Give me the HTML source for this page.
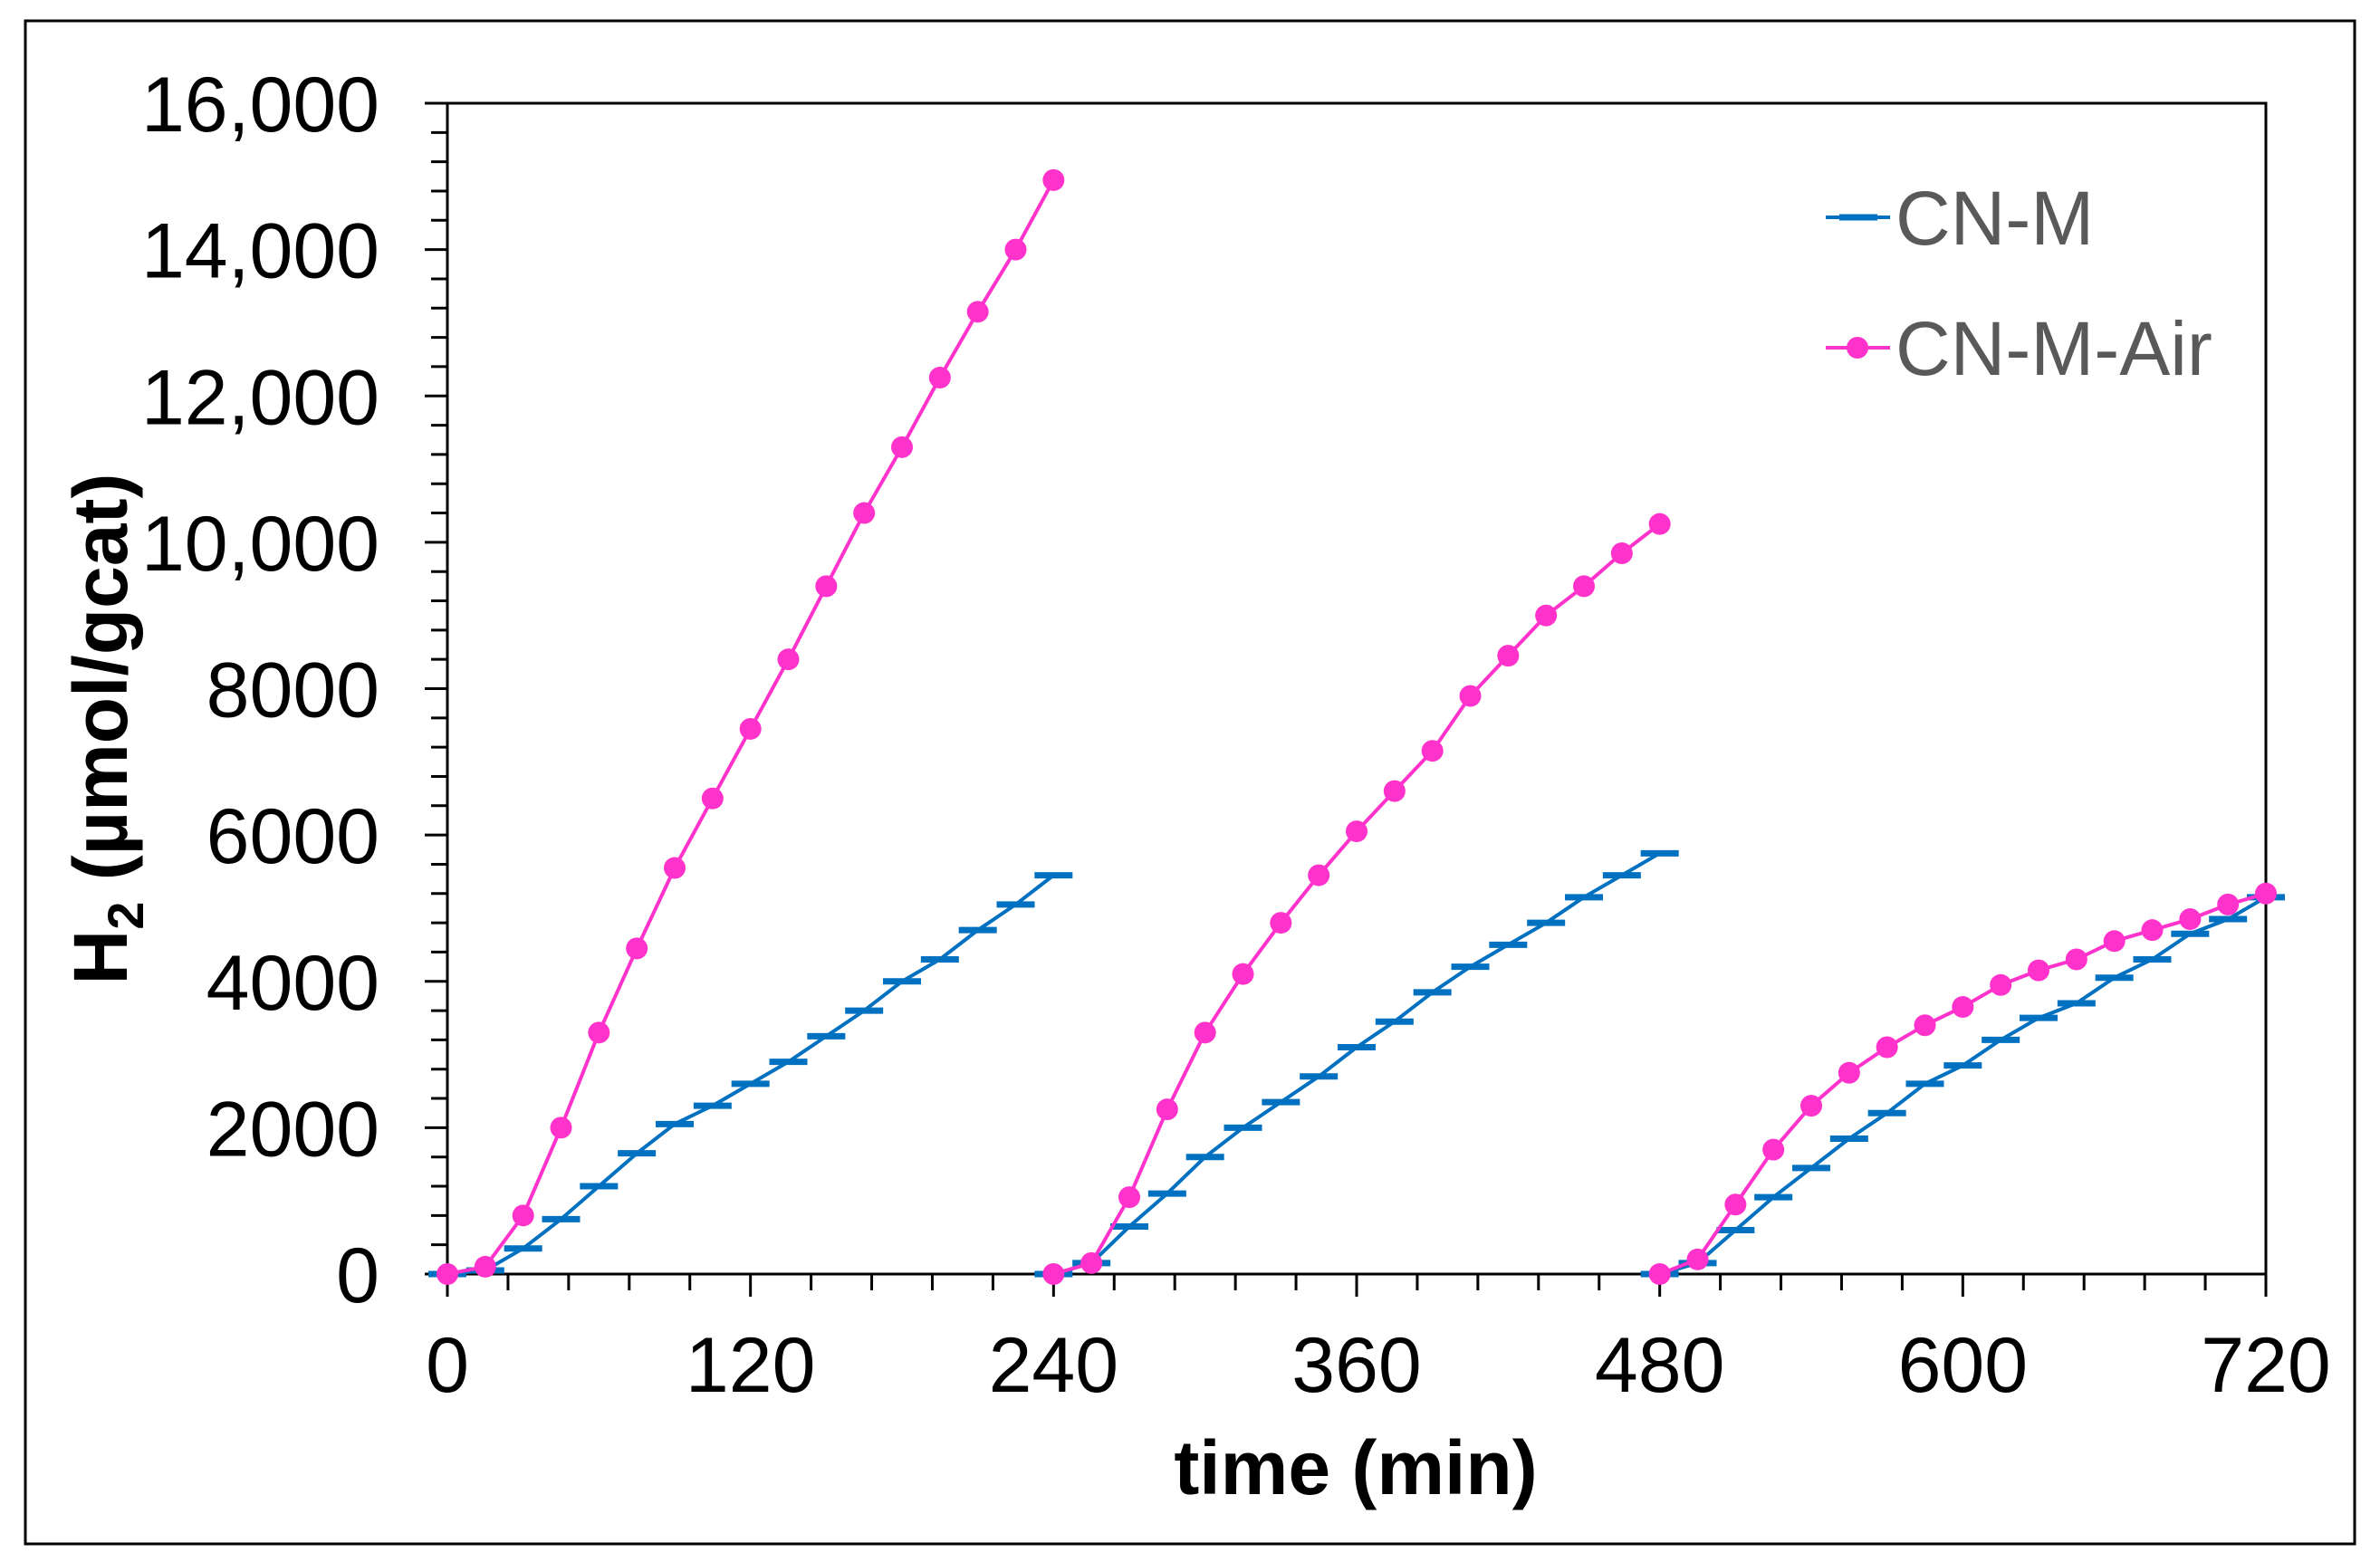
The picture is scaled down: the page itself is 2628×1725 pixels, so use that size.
<!DOCTYPE html>
<html><head><meta charset="utf-8"><style>
html,body{margin:0;padding:0;background:#fff;}
svg{display:block;font-family:"Liberation Sans",Arial,sans-serif;}
</style></head><body>
<svg id="chart" width="2628" height="1725" viewBox="0 0 2628 1725">
<rect x="28" y="23" width="2572" height="1682" fill="#fff" stroke="#000" stroke-width="3"/>
<g id="axes"></g>
<g id="series"></g>
<text x="140" y="805" transform="rotate(-90 140 805)" text-anchor="middle" font-size="84" font-weight="bold">H<tspan font-size="56" dy="18">2</tspan><tspan dy="-18"> (µmol/gcat)</tspan></text>
<text x="1497" y="1650" text-anchor="middle" font-size="84" font-weight="bold">time (min)</text>
<g>
<g>
<line x1="2016" y1="240" x2="2087" y2="240" stroke="#0070C0" stroke-width="4"/>
<line x1="2031" y1="240" x2="2073" y2="240" stroke="#0070C0" stroke-width="7"/>
<text x="2093" y="270" font-size="84" fill="#595959">CN-M</text>
</g>
<g>
<line x1="2016" y1="384" x2="2087" y2="384" stroke="#FF33CC" stroke-width="4"/>
<circle cx="2051" cy="384" r="12" fill="#FF33CC"/>
<text x="2093" y="414" font-size="84" fill="#595959">CN-M-Air</text>
</g>
</g>
</svg>
<script>
const times = [0,15,30,45,60,75,90,105,120,135,150,165,180,195,210,225,240];
const segmentStarts = [0,240,480];
const airSeg1 = [0,100,800,2000,3300,4450,5550,6500,7450,8400,9400,10400,11300,12250,13150,14000,14950];
const airSeg2 = [0,150,1050,2250,3300,4100,4800,5450,6050,6600,7150,7900,8450,9000,9400,9850,10250];
const airSeg3 = [0,200,950,1700,2300,2750,3100,3400,3650,3950,4150,4300,4550,4700,4850,5050,5200];
const cnmSeg1 = [0,50,350,750,1200,1650,2050,2300,2600,2900,3250,3600,4000,4300,4700,5050,5450];
const cnmSeg2 = [0,150,650,1100,1600,2000,2350,2700,3100,3450,3850,4200,4500,4800,5150,5450,5750];
const cnmSeg3 = [0,150,600,1050,1450,1850,2200,2600,2850,3200,3500,3700,4050,4300,4650,4850,5150];
const xTickLabels = ["0","120","240","360","480","600","720"];
const yTickLabels = ["0","2000","4000","6000","8000","10,000","12,000","14,000","16,000"];

const X0=494,X1=2502,Y0=1407,Y1=114;
const sx=v=>X0+(v/720)*(X1-X0);
const sy=v=>Y0-(v/16000)*(Y0-Y1);
const NS="http://www.w3.org/2000/svg";
function mk(tag,attrs,parent){const e=document.createElementNS(NS,tag);for(const k in attrs)e.setAttribute(k,attrs[k]);parent.appendChild(e);return e;}
const axes=document.getElementById('axes');
const series=document.getElementById('series');

const frame=mk('rect',{x:X0,y:Y1,width:X1-X0,height:Y0-Y1,fill:'none',stroke:'#000','stroke-width':3},axes);


for(let v=0;v<=16000;v+=400){
  const major=v%2000===0;
  const t=mk('line',{x1:X0-(major?25:18),x2:X0,y1:sy(v),y2:sy(v),stroke:'#000','stroke-width':3},axes);
  
  
}
yTickLabels.forEach((lab,i)=>{
  const t=mk('text',{x:419,y:sy(i*2000)+31,'text-anchor':'end','font-size':86},axes);
  t.textContent=lab;
  
  
});
for(let v=0;v<=720;v+=24){
  const major=v%120===0;
  const t=mk('line',{x1:sx(v),x2:sx(v),y1:Y0,y2:Y0+(major?25:18),stroke:'#000','stroke-width':3},axes);
  
  
}
xTickLabels.forEach((lab,i)=>{
  const t=mk('text',{x:sx(i*120),y:1537,'text-anchor':'middle','font-size':86},axes);
  t.textContent=lab;
  
  
});

function drawSeries(vals,start,color,kind,name){
  const g=mk('g',{},series);
  
  
  const pts=vals.map((v,i)=>sx(start+times[i]).toFixed(1)+','+sy(v).toFixed(1)).join(' ');
  const pl=mk('polyline',{points:pts,fill:'none',stroke:color,'stroke-width':4,'stroke-linejoin':'round'},g);
  
  
  vals.forEach((v,i)=>{
    const x=sx(start+times[i]),y=sy(v);
    let m;
    if(kind==='circle') m=mk('circle',{cx:x,cy:y,r:12,fill:color},g);
    else m=mk('line',{x1:x-21,x2:x+21,y1:y,y2:y,stroke:color,'stroke-width':7},g);
    
    
  });
}
[cnmSeg1,cnmSeg2,cnmSeg3].forEach((s,i)=>drawSeries(s,segmentStarts[i],'#0070C0','dash','cn-m-series'));
[airSeg1,airSeg2,airSeg3].forEach((s,i)=>drawSeries(s,segmentStarts[i],'#FF33CC','circle','cn-m-air-series'));
</script>
</body></html>
